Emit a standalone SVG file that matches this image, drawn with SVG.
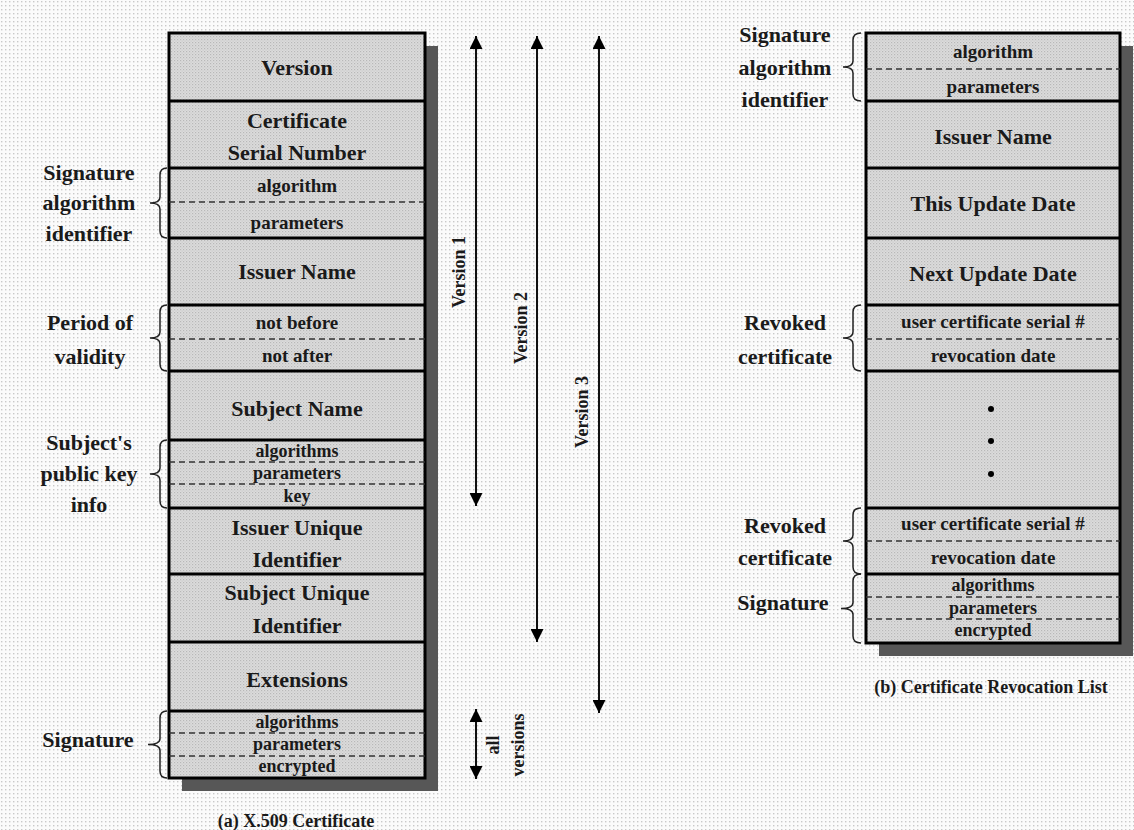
<svg xmlns="http://www.w3.org/2000/svg" width="1134" height="830" viewBox="0 0 1134 830">
<defs>
<pattern id="bg" width="4" height="4" patternUnits="userSpaceOnUse">
<rect width="4" height="4" fill="#fbfbfb"/>
<rect x="1" y="1" width="1.4" height="1.4" fill="#c9c9c9"/>
</pattern>
<pattern id="fillp" width="3" height="3" patternUnits="userSpaceOnUse">
<rect width="3" height="3" fill="#dcdcdc"/>
<rect x="0" y="0" width="1.2" height="1.2" fill="#b8b8b8"/>
<rect x="1.5" y="1.5" width="1.2" height="1.2" fill="#c8c8c8"/>
</pattern>
<marker id="ah" viewBox="0 0 14 13" refX="13" refY="6.5" markerWidth="14" markerHeight="13" markerUnits="userSpaceOnUse" orient="auto-start-reverse">
<path d="M0,0 L13,6.5 L0,13 Z" fill="#000"/>
</marker>
<style>
text{font-family:"Liberation Serif","Times New Roman",serif;font-weight:bold;fill:#1a1a1a;text-anchor:middle}
.big{font-size:22px}
.sm{font-size:19px}
.xs{font-size:18px}
.lab{font-size:22px}
.cap{font-size:18px}
.ver{font-size:18px}
.box{fill:url(#fillp);stroke:#000;stroke-width:3}
.sep{stroke:#000;stroke-width:3}
.dash{stroke:#333;stroke-width:1.5;stroke-dasharray:6 4}
.shadow{fill:#575757}
.brace{fill:none;stroke:#222;stroke-width:1.5}
.arr{stroke:#111;stroke-width:2;marker-start:url(#ah);marker-end:url(#ah)}
</style>
</defs>
<rect width="1134" height="830" fill="url(#bg)"/>

<g id="x509-certificate">
<rect class="shadow" x="182" y="46" width="256" height="745"/>
<rect class="box" x="169" y="33" width="256" height="745"/>
<g id="cert-version"><text class="big" x="297" y="75">Version</text></g>
<line class="sep" x1="169" y1="101" x2="425" y2="101"/>
<g id="cert-serial"><text class="big" x="297" y="128">Certificate</text><text class="big" x="297" y="160">Serial Number</text></g>
<line class="sep" x1="169" y1="168" x2="425" y2="168"/>
<g id="cert-sigalg"><text class="sm" x="297" y="192">algorithm</text><line class="dash" x1="169" y1="202" x2="425" y2="202"/><text class="sm" x="297" y="229">parameters</text></g>
<line class="sep" x1="169" y1="238" x2="425" y2="238"/>
<g id="cert-issuer"><text class="big" x="297" y="279">Issuer Name</text></g>
<line class="sep" x1="169" y1="305" x2="425" y2="305"/>
<g id="cert-validity"><text class="sm" x="297" y="329">not before</text><line class="dash" x1="169" y1="339" x2="425" y2="339"/><text class="sm" x="297" y="362">not after</text></g>
<line class="sep" x1="169" y1="371" x2="425" y2="371"/>
<g id="cert-subject"><text class="big" x="297" y="416">Subject Name</text></g>
<line class="sep" x1="169" y1="440" x2="425" y2="440"/>
<g id="cert-pubkey"><text class="xs" x="297" y="457">algorithms</text><line class="dash" x1="169" y1="462" x2="425" y2="462"/><text class="xs" x="297" y="479">parameters</text><line class="dash" x1="169" y1="484" x2="425" y2="484"/><text class="xs" x="297" y="502">key</text></g>
<line class="sep" x1="169" y1="508" x2="425" y2="508"/>
<g id="cert-issuer-uid"><text class="big" x="297" y="535">Issuer Unique</text><text class="big" x="297" y="567">Identifier</text></g>
<line class="sep" x1="169" y1="574" x2="425" y2="574"/>
<g id="cert-subject-uid"><text class="big" x="297" y="600">Subject Unique</text><text class="big" x="297" y="633">Identifier</text></g>
<line class="sep" x1="169" y1="642" x2="425" y2="642"/>
<g id="cert-extensions"><text class="big" x="297" y="687">Extensions</text></g>
<line class="sep" x1="169" y1="711" x2="425" y2="711"/>
<g id="cert-signature"><text class="xs" x="297" y="728">algorithms</text><line class="dash" x1="169" y1="733" x2="425" y2="733"/><text class="xs" x="297" y="750">parameters</text><line class="dash" x1="169" y1="756" x2="425" y2="756"/><text class="xs" x="297" y="772">encrypted</text></g>
<text class="cap" x="296" y="827">(a) X.509 Certificate</text>
</g>

<g id="cert-labels">
<g id="lbl-sigalg"><text class="lab" x="89" y="180">Signature</text><text class="lab" x="89" y="210">algorithm</text><text class="lab" x="89" y="241">identifier</text></g>
<g id="lbl-validity"><text class="lab" x="90" y="330">Period of</text><text class="lab" x="90" y="364">validity</text></g>
<g id="lbl-pubkey"><text class="lab" x="89" y="450">Subject's</text><text class="lab" x="89" y="481">public key</text><text class="lab" x="89" y="512">info</text></g>
<g id="lbl-signature"><text class="lab" x="88" y="747">Signature</text></g>
</g>

<g id="crl">
<rect class="shadow" x="879" y="46" width="254" height="610"/>
<rect class="box" x="866" y="33" width="254" height="610"/>
<g id="crl-sigalg"><text class="sm" x="993" y="58">algorithm</text><line class="dash" x1="866" y1="69" x2="1120" y2="69"/><text class="sm" x="993" y="93">parameters</text></g>
<line class="sep" x1="866" y1="101" x2="1120" y2="101"/>
<g id="crl-issuer"><text class="big" x="993" y="144">Issuer Name</text></g>
<line class="sep" x1="866" y1="168" x2="1120" y2="168"/>
<g id="crl-this"><text class="big" x="993" y="211">This Update Date</text></g>
<line class="sep" x1="866" y1="238" x2="1120" y2="238"/>
<g id="crl-next"><text class="big" x="993" y="281">Next Update Date</text></g>
<line class="sep" x1="866" y1="305" x2="1120" y2="305"/>
<g id="crl-revoked1"><text class="sm" x="993" y="328">user certificate serial #</text><line class="dash" x1="866" y1="339" x2="1120" y2="339"/><text class="sm" x="993" y="362">revocation date</text></g>
<line class="sep" x1="866" y1="371" x2="1120" y2="371"/>
<g id="crl-dots"><circle cx="991" cy="409" r="3" fill="#000"/><circle cx="991" cy="441" r="3" fill="#000"/><circle cx="991" cy="474" r="3" fill="#000"/></g>
<line class="sep" x1="866" y1="508" x2="1120" y2="508"/>
<g id="crl-revoked2"><text class="sm" x="993" y="530">user certificate serial #</text><line class="dash" x1="866" y1="541" x2="1120" y2="541"/><text class="sm" x="993" y="564">revocation date</text></g>
<line class="sep" x1="866" y1="574" x2="1120" y2="574"/>
<g id="crl-signature"><text class="xs" x="993" y="591">algorithms</text><line class="dash" x1="866" y1="597" x2="1120" y2="597"/><text class="xs" x="993" y="614">parameters</text><line class="dash" x1="866" y1="619" x2="1120" y2="619"/><text class="xs" x="993" y="636">encrypted</text></g>
<text class="cap" x="991" y="693">(b) Certificate Revocation List</text>
</g>

<g id="crl-labels">
<g id="lbl-crl-sigalg"><text class="lab" x="785" y="42">Signature</text><text class="lab" x="785" y="75">algorithm</text><text class="lab" x="785" y="107">identifier</text></g>
<g id="lbl-revoked1"><text class="lab" x="785" y="330">Revoked</text><text class="lab" x="785" y="364">certificate</text></g>
<g id="lbl-revoked2"><text class="lab" x="785" y="533">Revoked</text><text class="lab" x="785" y="565">certificate</text></g>
<g id="lbl-crl-signature"><text class="lab" x="783" y="610">Signature</text></g>
</g>

<g id="connectors">
<path class="brace" d="M167,168 Q160,168 160,175 L160,197 Q160,203 150,203 Q160,203 160,209 L160,231 Q160,238 167,238"/>
<path class="brace" d="M167,305 Q160,305 160,312 L160,332 Q160,338 150,338 Q160,338 160,344 L160,364 Q160,371 167,371"/>
<path class="brace" d="M167,440 Q160,440 160,447 L160,468 Q160,474 150,474 Q160,474 160,480 L160,501 Q160,508 167,508"/>
<path class="brace" d="M167,711 Q160,711 160,718 L160,738.5 Q160,744.5 148,744.5 Q160,744.5 160,750.5 L160,771 Q160,778 167,778"/>
<path class="brace" d="M861,33 Q853,33 853,40 L853,61 Q853,67 843,67 Q853,67 853,73 L853,94 Q853,101 861,101"/>
<path class="brace" d="M861,305 Q853,305 853,312 L853,332 Q853,338 843,338 Q853,338 853,344 L853,364 Q853,371 861,371"/>
<path class="brace" d="M861,508 Q853,508 853,515 L853,535 Q853,541 843,541 Q853,541 853,547 L853,567 Q853,574 861,574"/>
<path class="brace" d="M861,574 Q853,574 853,581 L853,602.5 Q853,608.5 841,608.5 Q853,608.5 853,614.5 L853,636 Q853,643 861,643"/>
<line class="arr" x1="476" y1="36" x2="476" y2="506"/>
<line class="arr" x1="537" y1="36" x2="537" y2="642"/>
<line class="arr" x1="599" y1="36" x2="599" y2="713"/>
<line class="arr" x1="476" y1="709" x2="476" y2="779"/>
<text class="ver" transform="translate(465,272) rotate(-90)">Version 1</text>
<text class="ver" transform="translate(527,328) rotate(-90)">Version 2</text>
<text class="ver" transform="translate(588,412) rotate(-90)">Version 3</text>
<text class="ver" transform="translate(499,745) rotate(-90)">all</text>
<text class="ver" transform="translate(524,745) rotate(-90)">versions</text>
</g>
</svg>
